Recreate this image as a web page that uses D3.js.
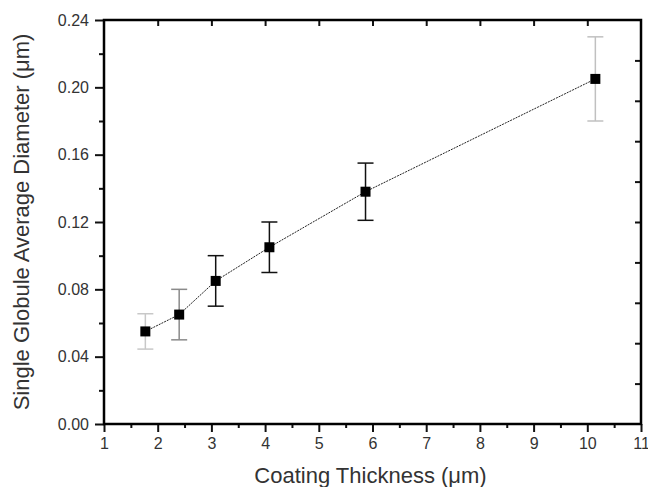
<!DOCTYPE html>
<html>
<head>
<meta charset="utf-8">
<script src="https://cdn.jsdelivr.net/npm/d3@7"></script>
<style>
  body { margin: 0; background: #fff; }
  text { font-family: "Liberation Sans", Arial, sans-serif; }
</style>
</head>
<body>
<div id="chart"></div>
<script>
// values
var thickness = [1.77, 2.4, 3.08, 4.08, 5.87, 10.15];
var diameter  = [0.055, 0.065, 0.085, 0.105, 0.138, 0.205];
var errDiam   = [0.0105, 0.015, 0.015, 0.015, 0.017, 0.025];
var xTicks = [1, 2, 3, 4, 5, 6, 7, 8, 9, 10, 11];
var yTicks = [0, 0.04, 0.08, 0.12, 0.16, 0.20, 0.24];

var errShade = ['#c8c8c8', '#8a8a8a', '#111', '#111', '#111', '#c0c0c0'];

var width = 648, height = 487;
var m = {left: 104, right: 7, top: 20, bottom: 63};
var w = width - m.left - m.right, h = height - m.top - m.bottom;

var svg = d3.select('#chart').append('svg')
  .attr('width', width).attr('height', height);
var g = svg.append('g').attr('transform', 'translate(' + m.left + ',' + m.top + ')');

var x = d3.scaleLinear().domain([1, 11]).range([0, w]);
var y = d3.scaleLinear().domain([0, 0.24]).range([h, 0]);

// bottom axis: major + minor outward
var xMinor = d3.range(1.5, 11, 1);
g.append('g').attr('transform', 'translate(0,' + h + ')')
  .call(d3.axisBottom(x).tickValues(xMinor).tickSize(4).tickFormat(''))
  .call(function(a) { a.select('.domain').remove(); });
var xa = g.append('g').attr('transform', 'translate(0,' + h + ')')
  .call(d3.axisBottom(x).tickValues(xTicks).tickSize(8).tickPadding(6).tickFormat(d3.format('d')));
xa.select('.domain').remove();
xa.selectAll('text').attr('font-size', 16).attr('fill', '#333');

// left axis
var yMinor = d3.range(0.02, 0.24, 0.04);
g.append('g')
  .call(d3.axisLeft(y).tickValues(yMinor).tickSize(5).tickFormat(''))
  .call(function(a) { a.select('.domain').remove(); });
var ya = g.append('g')
  .call(d3.axisLeft(y).tickValues(yTicks).tickSize(9).tickPadding(6).tickFormat(d3.format('.2f')));
ya.select('.domain').remove();
ya.selectAll('text').attr('font-size', 16).attr('fill', '#333');

// top axis: inward ticks
g.append('g')
  .call(d3.axisTop(x).tickValues(xTicks.slice(1, -1)).tickSize(-6).tickFormat(''))
  .call(function(a) { a.select('.domain').remove(); });

// right axis: inward ticks, ten divisions
g.append('g').attr('transform', 'translate(' + w + ',0)')
  .call(d3.axisRight(y).tickValues(d3.range(1, 10).map(function(i) { return i * 0.024; }))
    .tickSize(-6).tickFormat(''))
  .call(function(a) { a.select('.domain').remove(); });

g.selectAll('.tick line').attr('stroke', '#111').attr('stroke-width', 2);

// frame
g.append('rect').attr('width', w).attr('height', h)
  .attr('fill', 'none').attr('stroke', '#000').attr('stroke-width', 2.5);

var data = thickness.map(function(t, i) {
  return {x: t, y: diameter[i], e: errDiam[i], c: errShade[i]};
});

// error bars
var eb = g.selectAll('.eb').data(data).enter().append('g').attr('class', 'eb')
  .attr('stroke', function(d) { return d.c; }).attr('stroke-width', 1.5);
eb.append('line')
  .attr('x1', function(d) { return x(d.x); }).attr('x2', function(d) { return x(d.x); })
  .attr('y1', function(d) { return y(d.y - d.e); }).attr('y2', function(d) { return y(d.y + d.e); });
[-1, 1].forEach(function(s) {
  eb.append('line')
    .attr('x1', function(d) { return x(d.x) - 8; }).attr('x2', function(d) { return x(d.x) + 8; })
    .attr('y1', function(d) { return y(d.y + s * d.e); }).attr('y2', function(d) { return y(d.y + s * d.e); });
});

// connecting line
var line = d3.line().x(function(d) { return x(d.x); }).y(function(d) { return y(d.y); });
g.append('path').datum(data).attr('d', line)
  .attr('fill', 'none').attr('stroke', '#222').attr('stroke-width', 1)
  .attr('stroke-dasharray', '2,1');

// markers
g.selectAll('.pt').data(data).enter().append('rect')
  .attr('x', function(d) { return x(d.x) - 5; }).attr('y', function(d) { return y(d.y) - 5; })
  .attr('width', 10).attr('height', 10).attr('fill', '#000');

// axis titles
svg.append('text').attr('x', m.left + w / 2 - 2).attr('y', 483)
  .attr('text-anchor', 'middle').attr('font-size', 22).attr('fill', '#333')
  .text('Coating Thickness (\u03bcm)');
svg.append('text')
  .attr('transform', 'translate(29,' + (m.top + h / 2) + ') rotate(-90)')
  .attr('text-anchor', 'middle').attr('font-size', 22).attr('fill', '#333')
  .text('Single Globule Average Diameter (\u03bcm)');
</script>
</body>
</html>
